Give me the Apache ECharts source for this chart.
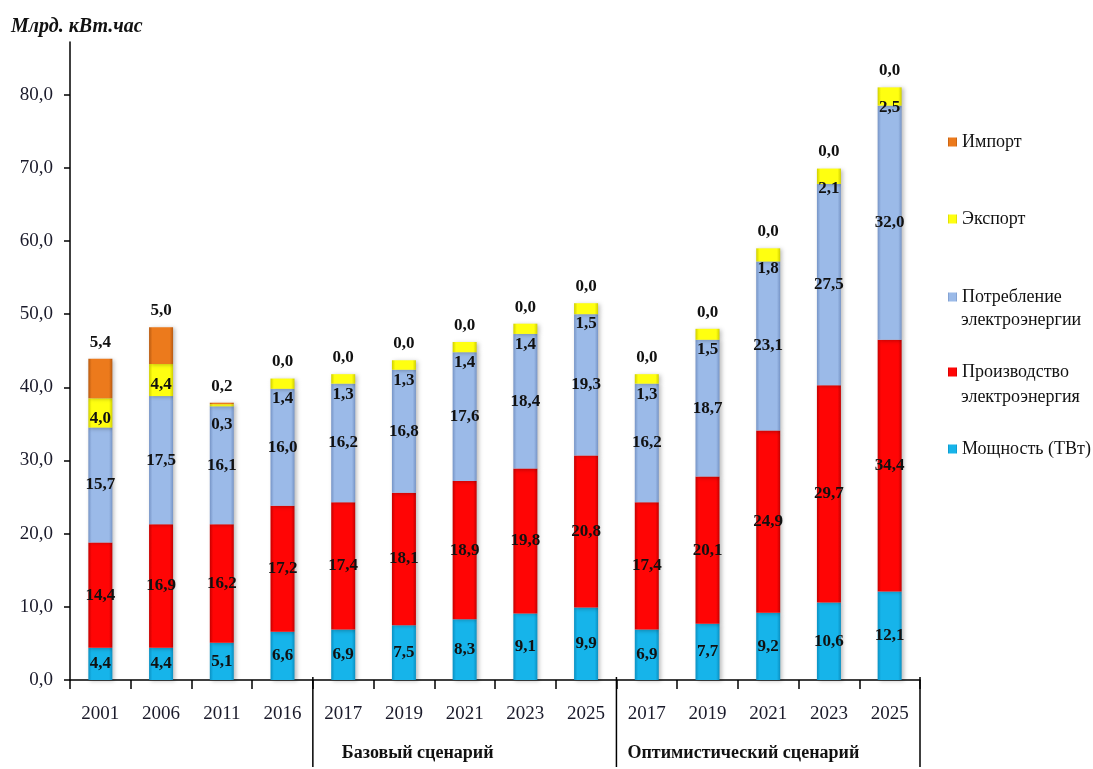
<!DOCTYPE html>
<html><head><meta charset="utf-8">
<script src="https://cdn.jsdelivr.net/npm/echarts@6/dist/echarts.min.js"></script>
<style>html,body{margin:0;padding:0;background:#fff}#c{width:1093px;height:769px}</style>
</head><body><div id="c"></div>
<script>
const categories = ['2001','2006','2011','2016','2017','2019','2021','2023','2025','2017','2019','2021','2023','2025'];
const moshchnost   = [4.4, 4.4, 5.1, 6.6, 6.9, 7.5, 8.3, 9.1, 9.9, 6.9, 7.7, 9.2, 10.6, 12.1];
const proizvodstvo = [14.4, 16.9, 16.2, 17.2, 17.4, 18.1, 18.9, 19.8, 20.8, 17.4, 20.1, 24.9, 29.7, 34.4];
const potreblenie  = [15.7, 17.5, 16.1, 16.0, 16.2, 16.8, 17.6, 18.4, 19.3, 16.2, 18.7, 23.1, 27.5, 32.0];
const eksport      = [4.0, 4.4, 0.3, 1.4, 1.3, 1.3, 1.4, 1.4, 1.5, 1.3, 1.5, 1.8, 2.1, 2.5];
const importVals   = [5.4, 5.0, 0.2, 0.0, 0.0, 0.0, 0.0, 0.0, 0.0, 0.0, 0.0, 0.0, 0.0, 0.0];
const yTicks = [0, 10, 20, 30, 40, 50, 60, 70, 80];
const seriesNames = ['Мощность (ТВт)', 'Производство электроэнергия', 'Потребление электроэнергии', 'Экспорт', 'Импорт'];
const groupNames = ['Базовый сценарий', 'Оптимистический сценарий'];
const groupStart = [4, 9];

const FONT = "'Liberation Serif', 'DejaVu Serif', serif";
const fmt = v => Number(v).toFixed(1).replace('.', ',');

function grad(edge, mid) {
  return new echarts.graphic.LinearGradient(0, 0, 1, 0, [
    {offset: 0, color: edge}, {offset: 0.14, color: mid},
    {offset: 0.86, color: mid}, {offset: 1, color: edge}]);
}
const colors = [
  grad('#0A90C2', '#16B4EA'),
  grad('#C40000', '#FF0505'),
  grad('#7694C6', '#9BBAE8'),
  grad('#CFCF00', '#FFFF10'),
  grad('#B85A10', '#EC7A1C')
];
const dataArr = [moshchnost, proizvodstvo, potreblenie, eksport, importVals];
const labelPos = [
  {position: 'inside'},
  {position: 'inside'},
  {position: 'inside'},
  {position: 'insideTop', distance: 12},
  {position: 'top', distance: 8}
];

const series = seriesNames.map((name, i) => ({
  name: name,
  type: 'bar',
  stack: 'total',
  barWidth: 24,
  data: dataArr[i],
  itemStyle: {color: colors[i], shadowBlur: 4, shadowOffsetX: 2, shadowOffsetY: 1, shadowColor: 'rgba(0,0,0,0.25)'},
  label: Object.assign({
    show: true,
    formatter: p => fmt(p.value),
    fontFamily: FONT, fontWeight: 'bold', fontSize: 17, color: '#111'
  }, labelPos[i]),
  emphasis: {disabled: true}
}));

const LEG_FONT = {fontFamily: FONT, fontSize: 18, color: '#111'};
const legendOrder = [4, 3, 2, 1, 0];
const legendTops = [126, 203, 281, 356, 433];
const legends = legendOrder.map((si, k) => ({
  data: [seriesNames[si]],
  left: 943, top: legendTops[k],
  orient: 'vertical', icon: 'rect', itemWidth: 9, itemHeight: 9, itemGap: 5,
  selectedMode: false,
  formatter: n => n.split(' электро')[0],
  textStyle: Object.assign({lineHeight: 22}, LEG_FONT)
}));

const chart = echarts.init(document.getElementById('c'), null, {renderer: 'canvas'});
chart.setOption({
  animation: false,
  backgroundColor: '#fff',
  title: {text: 'Млрд. кВт.час', left: 6, top: 12,
    textStyle: {fontFamily: FONT, fontStyle: 'italic', fontWeight: 'bold', fontSize: 20, color: '#111'}},
  legend: legends,
  grid: {left: 70, right: 173, top: 42, bottom: 89, containLabel: false},
  xAxis: {
    type: 'category', data: categories,
    axisLine: {lineStyle: {color: '#000', width: 1.5}},
    axisTick: {show: true, inside: false, length: 9, lineStyle: {color: '#000', width: 1.5}},
    axisLabel: {fontFamily: FONT, fontSize: 19, color: '#1a1a2a', margin: 25, interval: 0}
  },
  yAxis: {
    type: 'value', min: 0, max: 87.2, interval: 10,
    axisLine: {show: true, lineStyle: {color: '#000', width: 1.5}},
    axisTick: {show: true, length: 6, lineStyle: {color: '#000', width: 1.5}, customValues: yTicks},
    axisLabel: {fontFamily: FONT, fontSize: 19, color: '#1a1a2a', margin: 17, customValues: yTicks, formatter: v => fmt(v)},
    splitLine: {show: false}
  },
  series: series
});

// separators and scenario labels below the axis
const px = i => chart.convertToPixel({xAxisIndex: 0}, i);
const band = px(1) - px(0);
const y0 = chart.convertToPixel({yAxisIndex: 0}, 0);
const boundaries = [groupStart[0], groupStart[1]].map(i => px(i) - band / 2);
boundaries.push(px(categories.length - 1) + band / 2);
const graphic = boundaries.map(x => ({
  type: 'line', shape: {x1: x, y1: y0 - 3, x2: x, y2: 767},
  style: {stroke: '#000', lineWidth: 1.5}, silent: true
}));
const textOffsets = [29, 11];
groupNames.forEach((g, k) => {
  graphic.push({type: 'text', x: boundaries[k] + textOffsets[k], y: 753,
    style: {text: g, fontFamily: FONT, fontWeight: 'bold', fontSize: 18, fill: '#111', verticalAlign: 'middle', textAlign: 'left'},
    silent: true});
});
// second lines of the two-line legend entries
const secondLineY = {2: 320, 1: 397};
[2, 1].forEach(si => {
  const parts = seriesNames[si].split(' ');
  graphic.push({type: 'text', x: 961, y: secondLineY[si],
    style: Object.assign({text: parts.slice(1).join(' '), fill: '#111', verticalAlign: 'middle', textAlign: 'left'}, LEG_FONT),
    silent: true});
});
chart.setOption({graphic: graphic});
</script>
</body></html>
